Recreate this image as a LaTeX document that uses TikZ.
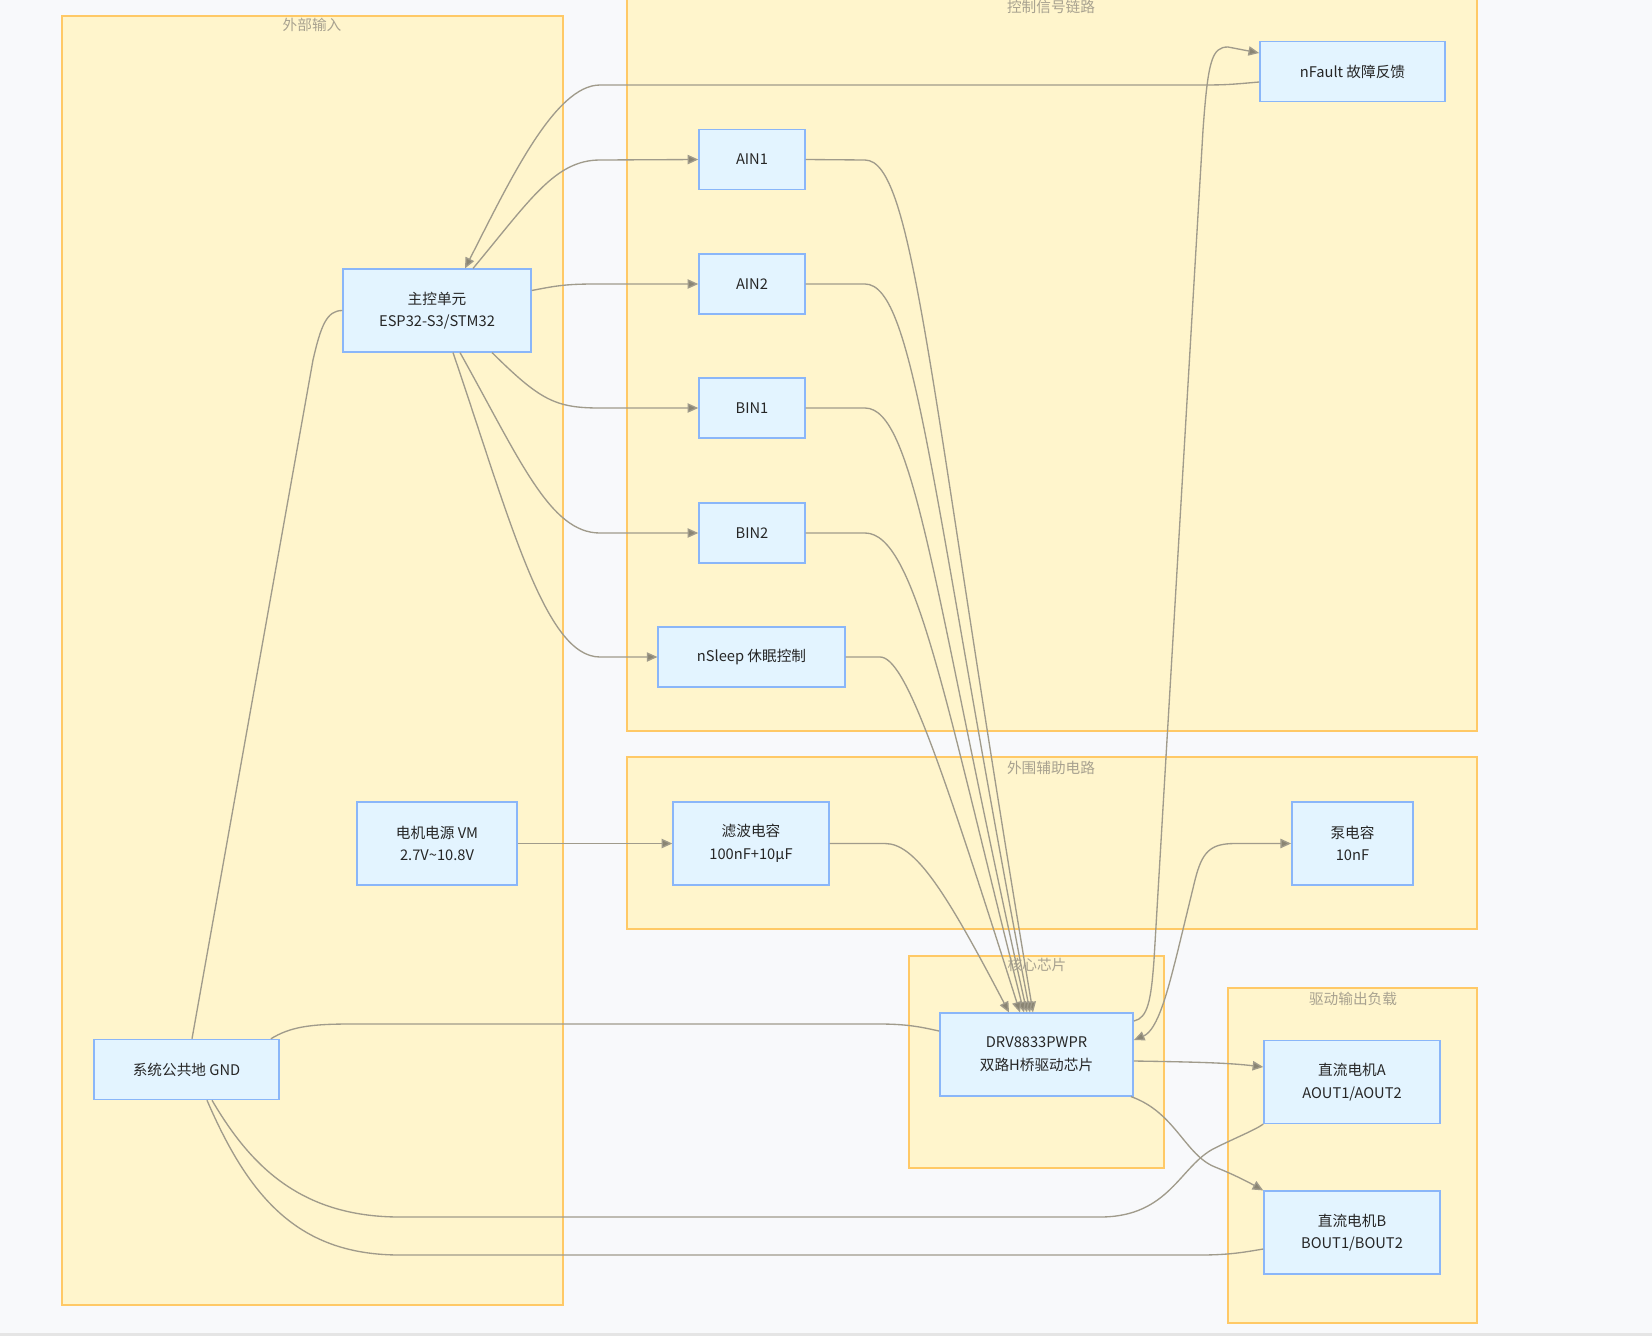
\documentclass[tikz,border=0pt]{standalone}
\usepackage{fontspec}
\setmainfont{Noto Sans CJK SC}
\usetikzlibrary{positioning, arrows.meta, calc}

\definecolor{bgC}{HTML}{F8F9FB}
\definecolor{grpFill}{HTML}{FFF5CC}
\definecolor{grpLine}{HTML}{FFC966}
\definecolor{grpText}{HTML}{A8A290}
\definecolor{boxFill}{HTML}{E3F4FF}
\definecolor{boxLine}{HTML}{8AB6F9}
\definecolor{lnC}{HTML}{A09B8B}
\definecolor{tipC}{HTML}{8A8573}

\begin{document}
\begin{tikzpicture}[
    x=0.75pt, y=-0.75pt,
    >={Triangle[length=8pt, width=7pt, fill=tipC]},
    every node/.style={font=\fontsize{11}{17}\selectfont, text=black!85},
    box/.style={draw=boxLine, fill=boxFill, line width=1.1pt, align=center, inner sep=2pt},
    sig/.style={box, minimum width=79.5pt, minimum height=45pt},
    tall/.style={box, minimum height=62pt},
    grp/.style={draw=grpLine, fill=grpFill, line width=1.4pt},
    grplabel/.style={text=grpText},
    link/.style={draw=lnC, line width=1pt},
    arr/.style={link, ->},
    arr2/.style={link, <->},
]
\useasboundingbox (0,0) rectangle (1652,1336);
\fill[bgC] (0,0) rectangle (1652,1336);
\fill[black!10] (0,1333) rectangle (1652,1336);

% groups
\draw[grp] (62,16) rectangle (563,1305);
\draw[grp] (627,-10) rectangle (1477,731);
\draw[grp] (627,757) rectangle (1477,929);
\draw[grp] (909,956) rectangle (1164,1168);
\draw[grp] (1228,988) rectangle (1477,1323);

\node[grplabel] (extT) at (312,25) {外部输入};
\node[grplabel] (ctrlT) at (1051,7) {控制信号链路};
\node[grplabel] (auxT) at (1051,768) {外围辅助电路};
\node[grplabel] (coreT) at (1037,965) {核心芯片};
\node[grplabel] (loadT) at (1353,999) {驱动输出负载};

% blocks
\node[tall, minimum width=141pt] (mcu) at (437,310.5) {主控单元\\ESP32-S3/STM32};
\node[sig] (ain1) at (752,159.5) {AIN1};
\node[sig] (ain2) at (752,284) {AIN2};
\node[sig] (bin1) at (752,408) {BIN1};
\node[sig] (bin2) at (752,533) {BIN2};
\node[sig, minimum width=140pt] (sleep) at (751.5,657) {nSleep 休眠控制};
\node[sig, minimum width=139pt] (fault) at (1352.5,71.5) {nFault 故障反馈};
\node[tall, minimum width=120pt] (vm) at (437,843.5) {电机电源 VM\\2.7V\textasciitilde10.8V};
\node[tall, minimum width=117pt] (filt) at (751,843.5) {滤波电容\\100nF+10µF};
\node[tall, minimum width=91pt] (pump) at (1352.5,843.5) {泵电容\\10nF};
\node[tall, minimum width=145pt] (drv) at (1036.5,1054.5) {DRV8833PWPR\\双路H桥驱动芯片};
\node[sig, minimum width=139pt] (gnd) at (186.5,1069.5) {系统公共地 GND};
\node[tall, minimum width=132pt] (motA) at (1352,1082) {直流电机A\\AOUT1/AOUT2};
\node[tall, minimum width=132pt] (motB) at (1352,1232.5) {直流电机B\\BOUT1/BOUT2};

% mcu to control lines
\draw[arr] ($(mcu.north)+(36,0)$) .. controls (530,200) and (555,160) .. (600,160) -- (ain1.west);
\draw[arr] ($(mcu.east)+(0,-20)$) .. controls (555,286) and (565,284) .. (595,284) -- (ain2.west);
\draw[arr] ($(mcu.south)+(55,0)$) .. controls (540,400) and (555,408) .. (600,408) -- (bin1.west);
\draw[arr] ($(mcu.south)+(23,0)$) .. controls (520,460) and (550,533) .. (600,533) -- (bin2.west);
\draw[arr] ($(mcu.south)+(16,0)$) .. controls (510,520) and (545,657) .. (600,657) -- (sleep.west);
\draw[arr] ($(fault.west)+(0,10.5)$) .. controls (1225,85) .. (1190,85) -- (600,85) .. controls (555,85) and (510,180) .. ($(mcu.north)+(28,0)$);

% into the driver
\draw[arr] (ain1.east) -- (865,160) .. controls (915,160) and (930,400) .. ($(drv.north)+(-3.5,0)$);
\draw[arr] (ain2.east) -- (865,284) .. controls (915,284) and (932,500) .. ($(drv.north)+(-6.5,0)$);
\draw[arr] (bin1.east) -- (865,408) .. controls (915,408) and (935,600) .. ($(drv.north)+(-9.5,0)$);
\draw[arr] (bin2.east) -- (865,533) .. controls (915,533) and (945,700) .. ($(drv.north)+(-12.5,0)$);
\draw[arr] (sleep.east) -- (880,657) .. controls (905,657) and (940,760) .. ($(drv.north)+(-16.5,0)$);
\draw[arr] (filt.east) -- (885,843.5) .. controls (915,843.5) and (945,890) .. ($(drv.north)+(-27.5,0)$);
\draw[arr] (vm.east) -- (filt.west);

% driver outputs
\draw[arr] ($(drv.east)+(0,-33.5)$) .. controls (1148,1018) and (1151,1000) .. (1154,960) -- (1203,130) .. controls (1208,60) and (1212,47) .. (1228,47) -- ($(fault.west)+(0,-18.5)$);
\draw[arr2] ($(drv.east)+(0,-14.5)$) .. controls (1158,1030) and (1168,990) .. (1178,950) -- (1195,880) .. controls (1202,852) and (1210,843.5) .. (1235,843.5) -- (pump.west);
\draw[arr] ($(drv.east)+(0,6.5)$) .. controls (1200,1062) and (1230,1063) .. ($(motA.west)+(0,-15)$);
\draw[arr] ($(drv.south east)+(-3,0)$) .. controls (1175,1112) and (1185,1155) .. (1215,1167) .. controls (1235,1175) and (1250,1183) .. (motB.north west);

% ground
\draw[link] ($(gnd.north)+(5.5,0)$) -- (313,360) .. controls (321,325) and (327,310.5) .. (mcu.west);
\draw[link] ($(gnd.north east)+(-9,0)$) .. controls (290,1027) and (310,1024) .. (350,1024) -- (880,1024) .. controls (910,1024) and (925,1028) .. ($(drv.west)+(0,-23.5)$);
\draw[link] ($(gnd.south)+(25.5,0)$) .. controls (250,1165) and (300,1217) .. (400,1217) -- (1100,1217) .. controls (1170,1217) and (1180,1165) .. (1215,1148) .. controls (1235,1138) and (1255,1130) .. (motA.south west);
\draw[link] ($(gnd.south)+(20.5,0)$) .. controls (250,1200) and (300,1255) .. (400,1255) -- (1200,1255) .. controls (1230,1255) and (1245,1252) .. ($(motB.west)+(0,16.5)$);
\end{tikzpicture}
\end{document}
